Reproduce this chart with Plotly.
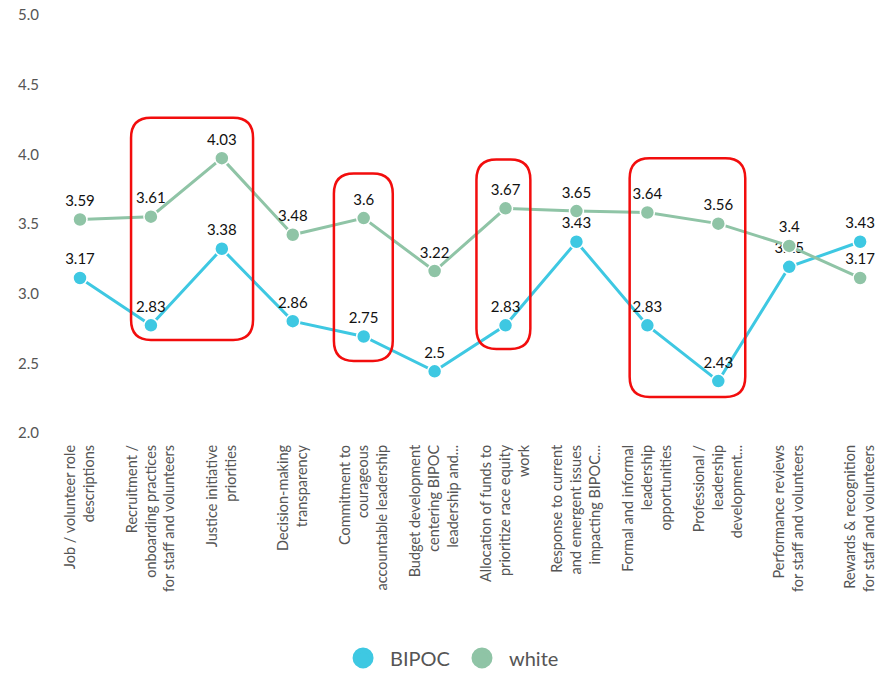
import plotly.graph_objects as go

categories = [
    "Job / volunteer role<br>descriptions",
    "Recruitment /<br>onboarding practices<br>for staff and volunteers",
    "Justice initiative<br>priorities",
    "Decision-making<br>transparency",
    "Commitment to<br>courageous<br>accountable leadership",
    "Budget development<br>centering BIPOC<br>leadership and...",
    "Allocation of funds to<br>prioritize race equity<br>work",
    "Response to current<br>and emergent issues<br>impacting BIPOC...",
    "Formal and informal<br>leadership<br>opportunities",
    "Professional /<br>leadership<br>development...",
    "Performance reviews<br>for staff and volunteers",
    "Rewards & recognition<br>for staff and volunteers",
]
bipoc = [3.17, 2.83, 3.38, 2.86, 2.75, 2.5, 2.83, 3.43, 2.83, 2.43, 3.25, 3.43]
white = [3.59, 3.61, 4.03, 3.48, 3.6, 3.22, 3.67, 3.65, 3.64, 3.56, 3.4, 3.17]
y_ticks = [2.0, 2.5, 3.0, 3.5, 4.0, 4.5, 5.0]

# highlight boxes: (left, right) in category units, (bottom, top) in score units
highlights = [
    (0.72, 2.44, 2.725, 4.32),
    (3.58, 4.41, 2.574, 3.92),
    (5.59, 6.35, 2.66, 4.02),
    (7.75, 9.38, 2.316, 4.03),
]

BIPOC_C = "#3ec8e2"
WHITE_C = "#8fc4a6"
FONT = "Lato, 'Open Sans', sans-serif"

x_idx = list(range(len(categories)))

fig = go.Figure()
for name, vals, col in [("BIPOC", bipoc, BIPOC_C), ("white", white, WHITE_C)]:
    fig.add_trace(go.Scatter(
        x=x_idx, y=vals, name=name, showlegend=False,
        mode="lines+markers+text",
        line=dict(color=col, width=3),
        marker=dict(size=14, color=col, line=dict(color="white", width=1.5)),
        text=[f"{v:g}" for v in vals],
        textposition="top center",
        textfont=dict(family=FONT, size=15, color="#111111"),
        cliponaxis=False,
    ))
    # legend entry: plain filled circle
    fig.add_trace(go.Scatter(
        x=[None], y=[None], name=name, mode="markers",
        marker=dict(size=16, color=col, line=dict(color=col, width=5)),
    ))


def rounded_rect(x0, x1, y0, y1, rx=0.28, ry=0.145):
    return (
        f"M {x0 + rx},{y1} L {x1 - rx},{y1} Q {x1},{y1} {x1},{y1 - ry} "
        f"L {x1},{y0 + ry} Q {x1},{y0} {x1 - rx},{y0} "
        f"L {x0 + rx},{y0} Q {x0},{y0} {x0},{y0 + ry} "
        f"L {x0},{y1 - ry} Q {x0},{y1} {x0 + rx},{y1} Z"
    )


for x0, x1, y0, y1 in highlights:
    fig.add_shape(type="path", xref="x", yref="y",
                  path=rounded_rect(x0, x1, y0, y1),
                  line=dict(color="#f20d0d", width=2.5))

fig.update_layout(
    width=886, height=673,
    margin=dict(l=50, r=6, t=23, b=232, autoexpand=False),
    paper_bgcolor="white", plot_bgcolor="white",
    font=dict(family=FONT, color="#555555"),
    showlegend=True,
    legend=dict(orientation="h", x=0.482, xanchor="center", y=-0.519, yanchor="middle",
                font=dict(size=20, color="#555555"), itemsizing="trace",
                itemwidth=44, traceorder="normal"),
    xaxis=dict(
        tickmode="array", tickvals=x_idx, ticktext=categories,
        tickangle=-90, range=[-0.423, 11.28], automargin=False,
        showgrid=False, zeroline=False, showline=False, ticks="",
        tickfont=dict(size=14.5, color="#555555"),
    ),
    yaxis=dict(
        range=[2, 5], tickvals=y_ticks, ticktext=[f"{v:.1f}" for v in y_ticks],
        showgrid=False, zeroline=False, showline=False, ticks="", automargin=False,
        tickfont=dict(size=15, color="#555555"), ticklabelshift=-8,
        ticklabelstandoff=10,
    ),
)

fig.write_html("out.html")
